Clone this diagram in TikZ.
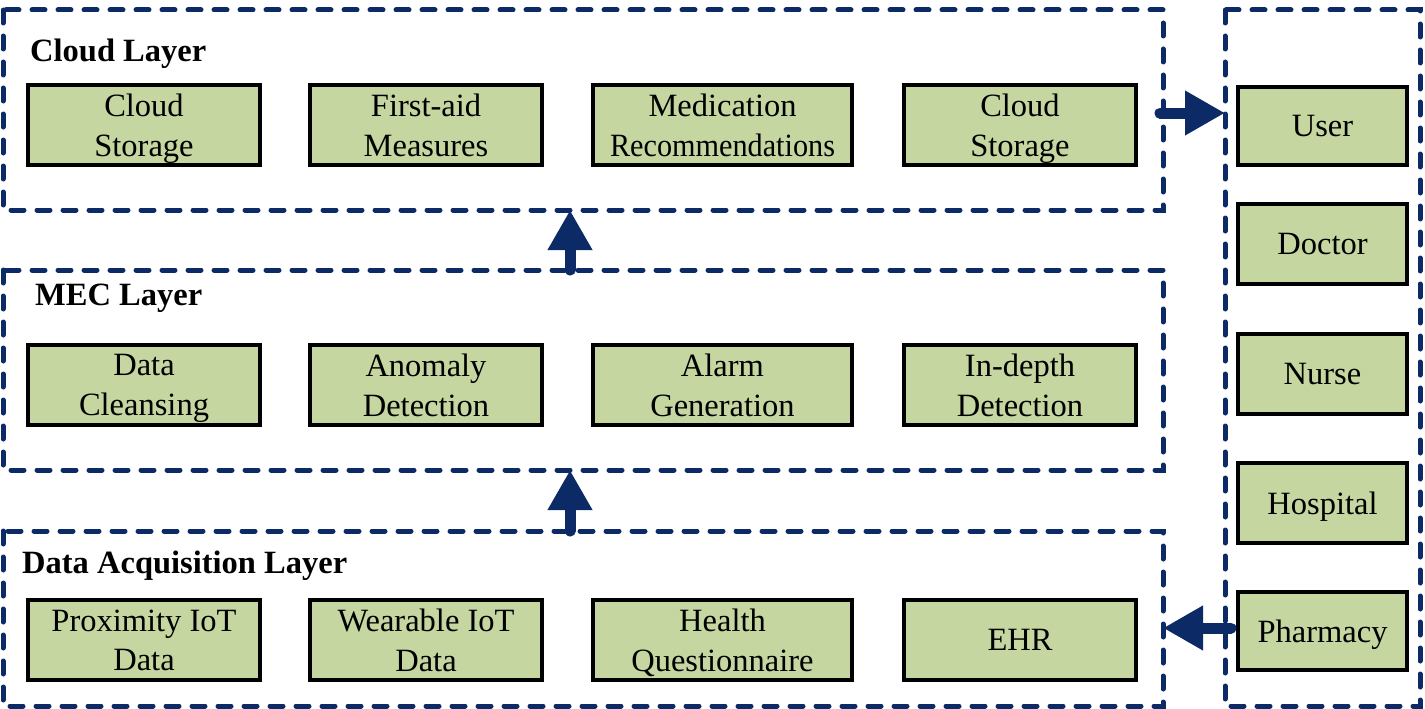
\documentclass[tikz,border=0pt]{standalone}
\usepackage{fontspec}
\setmainfont{Liberation Serif}
\usetikzlibrary{arrows.meta}
\definecolor{navy}{HTML}{0B2A66}
\definecolor{boxgreen}{HTML}{C5D6A0}
\begin{document}
\begin{tikzpicture}[x=1pt,y=-1pt,
  layer/.style={draw=navy,line width=5pt,dash pattern=on 13pt off 13pt,line cap=round},
  item/.style={draw=black,line width=4pt,fill=boxgreen,inner sep=0pt,align=center,
    text depth=0pt,font=\fontsize{32.5}{39.5}\selectfont},
  ttl/.style={anchor=west,inner sep=0pt,font=\fontsize{32.5}{38}\selectfont\bfseries},
  flow/.style={navy,line width=11pt,line cap=round,-{Triangle[width=42pt,length=40pt]}}]
\useasboundingbox (0,0) rectangle (1425,709);
% layers
\draw[layer] (3,10) rectangle (1163,210);
\draw[layer] (3,270) rectangle (1163,470);
\draw[layer] (3,531) rectangle (1163,706);
\draw[layer] (1225,10) rectangle (1420,706);
\coordinate (cloudB) at (570,210);
\coordinate (mecT) at (570,270);
\coordinate (mecB) at (570,470);
\coordinate (dataT) at (570,531);
\coordinate (cloudR) at (1160,113);
\coordinate (rightL) at (1225,113);
\coordinate (dataR) at (1163,628);
\coordinate (rightL2) at (1231,628);
% titles
\node[ttl] (t1) at (30,54) {Cloud Layer};
\node[ttl] (t2) at (35,298) {MEC Layer};
\node[ttl] (t3) at (22,566) {Data Acquisition Layer};
% cloud row
\node[item,minimum width=232pt,minimum height=80pt] (c1) at (144,125) {Cloud\\Storage};
\node[item,minimum width=232pt,minimum height=80pt] (c2) at (426,125) {First-aid\\Measures};
\node[item,minimum width=259pt,minimum height=80pt] (c3) at (722.5,125) {Medication\\\scalebox{0.93}[1]{Recommendations}};
\node[item,minimum width=232pt,minimum height=80pt] (c4) at (1020,125) {Cloud\\Storage};
% MEC row
\node[item,minimum width=232pt,minimum height=80pt] (m1) at (144,385) {Data\\Cleansing};
\node[item,minimum width=232pt,minimum height=80pt] (m2) at (426,385) {Anomaly\\Detection};
\node[item,minimum width=259pt,minimum height=80pt] (m3) at (722.5,385) {Alarm\\Generation};
\node[item,minimum width=232pt,minimum height=80pt] (m4) at (1020,385) {In-depth\\Detection};
% data row
\node[item,minimum width=232pt,minimum height=80pt] (d1) at (144,640) {Proximity IoT\\Data};
\node[item,minimum width=232pt,minimum height=80pt] (d2) at (426,640) {Wearable IoT\\Data};
\node[item,minimum width=259pt,minimum height=80pt] (d3) at (722.5,640) {Health\\Questionnaire};
\node[item,minimum width=232pt,minimum height=80pt] (d4) at (1020,640) {EHR};
% right column
\node[item,minimum width=169pt,minimum height=78pt] (u1) at (1322.5,126) {User};
\node[item,minimum width=169pt,minimum height=80pt] (u2) at (1322.5,243.5) {Doctor};
\node[item,minimum width=169pt,minimum height=80pt] (u3) at (1322.5,374) {Nurse};
\node[item,minimum width=169pt,minimum height=80pt] (u4) at (1322.5,503) {Hospital};
\node[item,minimum width=169pt,minimum height=78pt] (u5) at (1322.5,631) {Pharmacy};
% arrows
\draw[flow] (mecT) -- (cloudB);
\draw[flow] (dataT) -- (mecB);
\draw[flow] (cloudR) -- (rightL);
\draw[flow] (rightL2) -- (dataR);
\end{tikzpicture}
\end{document}
